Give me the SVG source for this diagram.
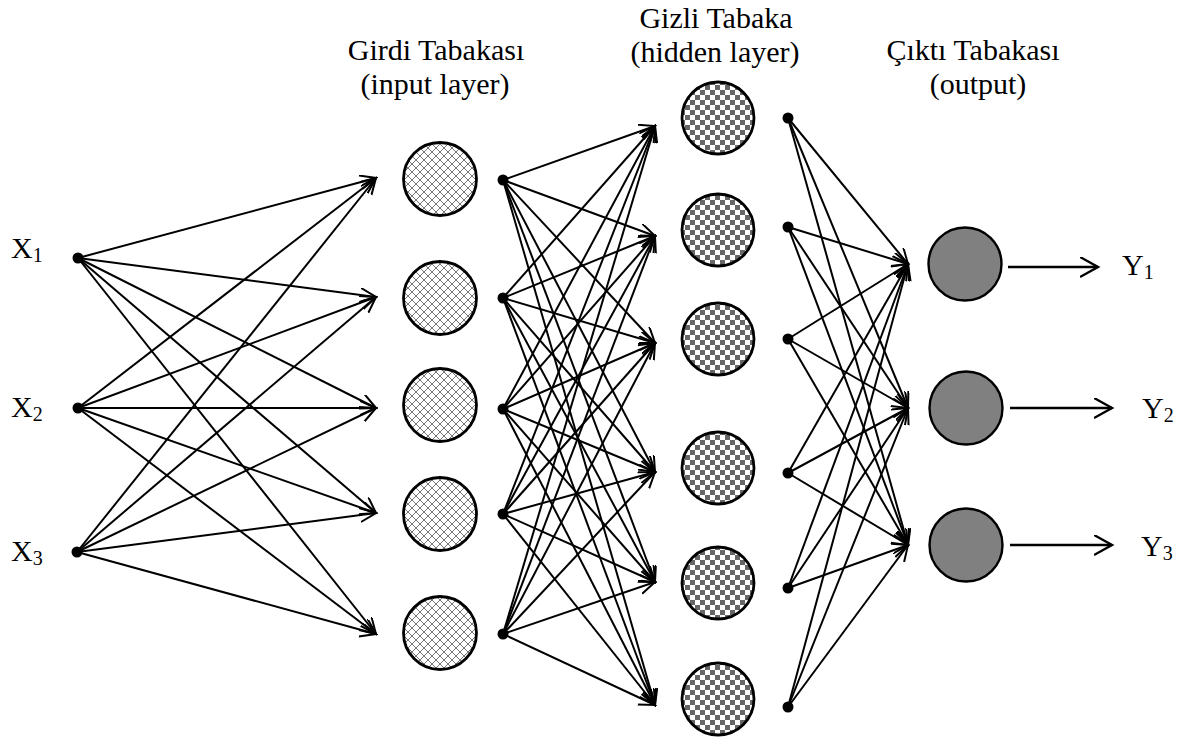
<svg xmlns="http://www.w3.org/2000/svg" width="1184" height="740" viewBox="0 0 1184 740">
<style>
.t{font-family:"Liberation Serif","Times New Roman",serif;font-size:30px;fill:#000;text-anchor:middle}
.lbl{font-family:"Liberation Serif","Times New Roman",serif;font-size:30px;fill:#000}
.sub{font-size:20px}
.e{stroke:#000;stroke-width:2;fill:none;marker-end:url(#ah)}
.o{stroke:#000;stroke-width:2.4;fill:none;marker-end:url(#ah2)}
.dot{fill:#000}
.inp{fill:url(#hatch);stroke:#000;stroke-width:2.8}
.hid{fill:url(#checker);stroke:#000;stroke-width:2.8}
.out{fill:#808080;stroke:#000;stroke-width:2.4}
</style>
<defs>
<pattern id="hatch" width="8" height="8" patternUnits="userSpaceOnUse">
<rect width="8" height="8" fill="#fff"/>
<path d="M0,0 L8,8 M8,0 L0,8" stroke="#777" stroke-width="1"/>
</pattern>
<pattern id="checker" width="10" height="10" patternUnits="userSpaceOnUse">
<rect width="10" height="10" fill="#fff"/>
<rect width="5" height="5" fill="#666"/>
<rect x="5" y="5" width="5" height="5" fill="#666"/>
</pattern>
<marker id="ah" markerUnits="userSpaceOnUse" markerWidth="18" markerHeight="16" refX="16" refY="7" orient="auto">
<path d="M0,0 L16,7 L0,14" fill="none" stroke="#000" stroke-width="2"/>
</marker>
<marker id="ah2" markerUnits="userSpaceOnUse" markerWidth="22" markerHeight="22" refX="18" refY="10" orient="auto">
<path d="M0,0 L18,10 L0,20" fill="none" stroke="#000" stroke-width="2.4"/>
</marker>
</defs>
<g id="titles">
<text class="t" x="436" y="60">Girdi Tabakası</text>
<text class="t" x="435" y="94">(input layer)</text>
<text class="t" x="716" y="28">Gizli Tabaka</text>
<text class="t" x="715" y="62">(hidden layer)</text>
<text class="t" x="973" y="60">Çıktı Tabakası</text>
<text class="t" x="978" y="94">(output)</text>
</g>
<g id="connectors">
<line class="e" x1="78" y1="258" x2="376" y2="178"/>
<line class="e" x1="78" y1="258" x2="376" y2="297"/>
<line class="e" x1="78" y1="258" x2="376" y2="408"/>
<line class="e" x1="78" y1="258" x2="376" y2="513"/>
<line class="e" x1="78" y1="258" x2="376" y2="634"/>
<line class="e" x1="78" y1="408" x2="376" y2="178"/>
<line class="e" x1="78" y1="408" x2="376" y2="297"/>
<line class="e" x1="78" y1="408" x2="376" y2="408"/>
<line class="e" x1="78" y1="408" x2="376" y2="513"/>
<line class="e" x1="78" y1="408" x2="376" y2="634"/>
<line class="e" x1="77" y1="552" x2="376" y2="178"/>
<line class="e" x1="77" y1="552" x2="376" y2="297"/>
<line class="e" x1="77" y1="552" x2="376" y2="408"/>
<line class="e" x1="77" y1="552" x2="376" y2="513"/>
<line class="e" x1="77" y1="552" x2="376" y2="634"/>
<line class="e" x1="503" y1="180" x2="655" y2="126"/>
<line class="e" x1="503" y1="180" x2="655" y2="236"/>
<line class="e" x1="503" y1="180" x2="655" y2="343"/>
<line class="e" x1="503" y1="180" x2="655" y2="472"/>
<line class="e" x1="503" y1="180" x2="655" y2="582"/>
<line class="e" x1="503" y1="180" x2="655" y2="705"/>
<line class="e" x1="503" y1="298" x2="655" y2="126"/>
<line class="e" x1="503" y1="298" x2="655" y2="236"/>
<line class="e" x1="503" y1="298" x2="655" y2="343"/>
<line class="e" x1="503" y1="298" x2="655" y2="472"/>
<line class="e" x1="503" y1="298" x2="655" y2="582"/>
<line class="e" x1="503" y1="298" x2="655" y2="705"/>
<line class="e" x1="503" y1="409" x2="655" y2="126"/>
<line class="e" x1="503" y1="409" x2="655" y2="236"/>
<line class="e" x1="503" y1="409" x2="655" y2="343"/>
<line class="e" x1="503" y1="409" x2="655" y2="472"/>
<line class="e" x1="503" y1="409" x2="655" y2="582"/>
<line class="e" x1="503" y1="409" x2="655" y2="705"/>
<line class="e" x1="503" y1="514" x2="655" y2="126"/>
<line class="e" x1="503" y1="514" x2="655" y2="236"/>
<line class="e" x1="503" y1="514" x2="655" y2="343"/>
<line class="e" x1="503" y1="514" x2="655" y2="472"/>
<line class="e" x1="503" y1="514" x2="655" y2="582"/>
<line class="e" x1="503" y1="514" x2="655" y2="705"/>
<line class="e" x1="503" y1="634" x2="655" y2="126"/>
<line class="e" x1="503" y1="634" x2="655" y2="236"/>
<line class="e" x1="503" y1="634" x2="655" y2="343"/>
<line class="e" x1="503" y1="634" x2="655" y2="472"/>
<line class="e" x1="503" y1="634" x2="655" y2="582"/>
<line class="e" x1="503" y1="634" x2="655" y2="705"/>
<line class="e" x1="788" y1="118" x2="908" y2="264"/>
<line class="e" x1="788" y1="118" x2="908" y2="408"/>
<line class="e" x1="788" y1="118" x2="908" y2="545"/>
<line class="e" x1="788" y1="227" x2="908" y2="264"/>
<line class="e" x1="788" y1="227" x2="908" y2="408"/>
<line class="e" x1="788" y1="227" x2="908" y2="545"/>
<line class="e" x1="788" y1="339" x2="908" y2="264"/>
<line class="e" x1="788" y1="339" x2="908" y2="408"/>
<line class="e" x1="788" y1="339" x2="908" y2="545"/>
<line class="e" x1="788" y1="473" x2="908" y2="264"/>
<line class="e" x1="788" y1="473" x2="908" y2="408"/>
<line class="e" x1="788" y1="473" x2="908" y2="545"/>
<line class="e" x1="788" y1="588" x2="908" y2="264"/>
<line class="e" x1="788" y1="588" x2="908" y2="408"/>
<line class="e" x1="788" y1="588" x2="908" y2="545"/>
<line class="e" x1="788" y1="707" x2="908" y2="264"/>
<line class="e" x1="788" y1="707" x2="908" y2="408"/>
<line class="e" x1="788" y1="707" x2="908" y2="545"/>
<line class="o" x1="1008" y1="267" x2="1098" y2="267"/>
<line class="o" x1="1010" y1="408" x2="1112" y2="408"/>
<line class="o" x1="1010" y1="545" x2="1112" y2="545"/>
</g>
<g id="x1"><circle class="dot" cx="78" cy="258" r="5.5"/><text class="lbl" x="11" y="258">X<tspan class="sub" dy="4">1</tspan></text></g>
<g id="x2"><circle class="dot" cx="78" cy="408" r="5.5"/><text class="lbl" x="11" y="417">X<tspan class="sub" dy="4">2</tspan></text></g>
<g id="x3"><circle class="dot" cx="77" cy="552" r="5.5"/><text class="lbl" x="11" y="561">X<tspan class="sub" dy="4">3</tspan></text></g>
<g id="in1"><circle class="inp" cx="440" cy="179" r="36.5"/><circle class="dot" cx="503" cy="180" r="5.5"/></g>
<g id="in2"><circle class="inp" cx="440" cy="298" r="36.5"/><circle class="dot" cx="503" cy="298" r="5.5"/></g>
<g id="in3"><circle class="inp" cx="440" cy="405" r="36.5"/><circle class="dot" cx="503" cy="409" r="5.5"/></g>
<g id="in4"><circle class="inp" cx="440" cy="514" r="36.5"/><circle class="dot" cx="503" cy="514" r="5.5"/></g>
<g id="in5"><circle class="inp" cx="440" cy="633" r="36.5"/><circle class="dot" cx="503" cy="634" r="5.5"/></g>
<g id="h1"><circle class="hid" cx="718" cy="118" r="36"/><circle class="dot" cx="788" cy="118" r="5.5"/></g>
<g id="h2"><circle class="hid" cx="718" cy="230" r="36"/><circle class="dot" cx="788" cy="227" r="5.5"/></g>
<g id="h3"><circle class="hid" cx="718" cy="339" r="36"/><circle class="dot" cx="788" cy="339" r="5.5"/></g>
<g id="h4"><circle class="hid" cx="718" cy="468" r="36"/><circle class="dot" cx="788" cy="473" r="5.5"/></g>
<g id="h5"><circle class="hid" cx="718" cy="583" r="36"/><circle class="dot" cx="788" cy="588" r="5.5"/></g>
<g id="h6"><circle class="hid" cx="718" cy="699" r="36"/><circle class="dot" cx="788" cy="707" r="5.5"/></g>
<g id="o1"><circle class="out" cx="965" cy="264" r="36.5"/><text class="lbl" x="1122" y="275">Y<tspan class="sub" dy="4">1</tspan></text></g>
<g id="o2"><circle class="out" cx="966" cy="408" r="36.5"/><text class="lbl" x="1142" y="418">Y<tspan class="sub" dy="4">2</tspan></text></g>
<g id="o3"><circle class="out" cx="966" cy="545" r="36.5"/><text class="lbl" x="1141" y="556">Y<tspan class="sub" dy="4">3</tspan></text></g>
</svg>
